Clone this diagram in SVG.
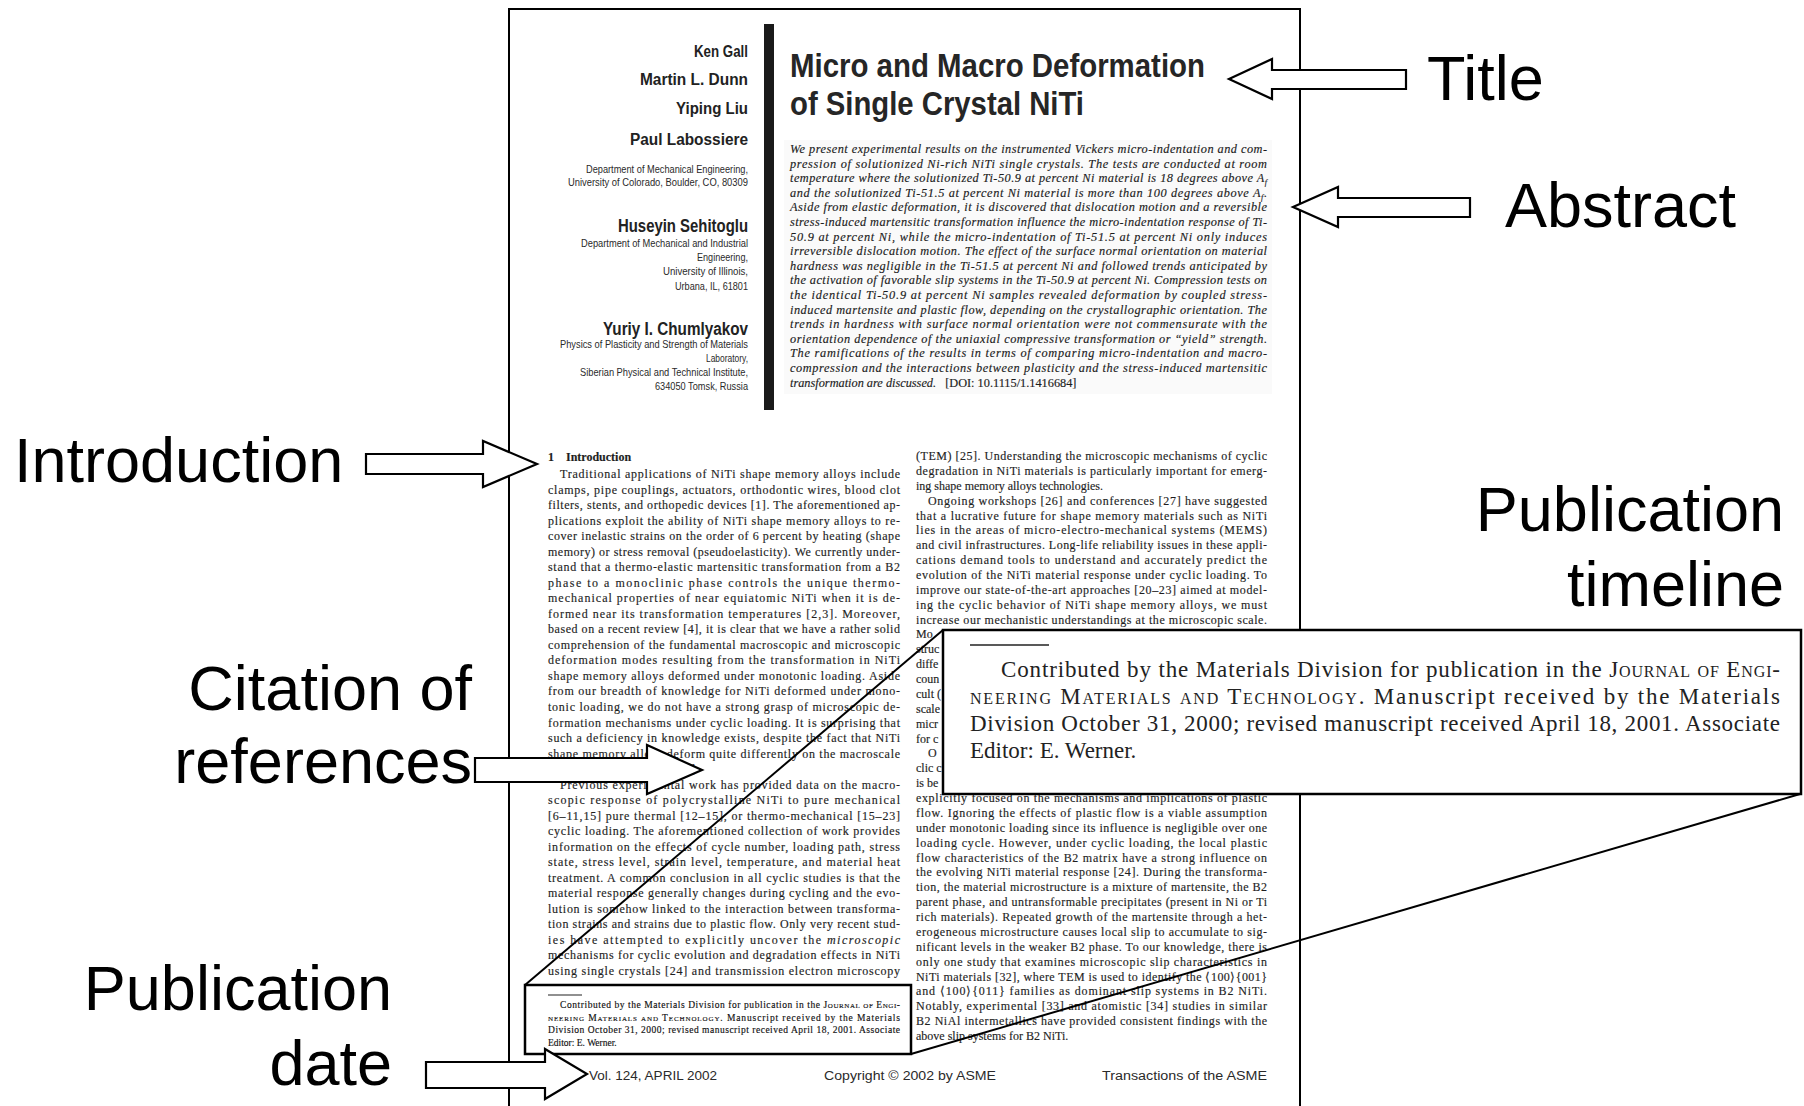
<svg xmlns="http://www.w3.org/2000/svg" width="1804" height="1106" viewBox="0 0 1804 1106">
<style>
.lbl{font-family:"Liberation Sans",Arial,sans-serif;font-size:63px;fill:#000}
.end{text-anchor:end}
.auth{font-family:"Liberation Sans",Arial,sans-serif;font-weight:bold;fill:#222;text-anchor:end}
.aff{font-family:"Liberation Sans",Arial,sans-serif;font-size:10.5px;fill:#2a2a2a;text-anchor:end}
.ttl{font-family:"Liberation Sans",Arial,sans-serif;font-weight:bold;font-size:33px;fill:#262626}
.abs{font-family:"Liberation Serif","Times New Roman",serif;font-style:italic;font-size:12.3px;fill:#1c1c1c;stroke:#1c1c1c;stroke-width:0.15}
.bd{font-family:"Liberation Serif","Times New Roman",serif;font-size:12px;fill:#1e1e1e;stroke:#1e1e1e;stroke-width:0.15}
.fn{font-family:"Liberation Serif","Times New Roman",serif;font-size:9.5px;fill:#111;stroke:#111;stroke-width:0.15}
.ins{font-family:"Liberation Serif","Times New Roman",serif;font-size:23px;fill:#222}
.sc{font-variant:small-caps}
.ft{font-family:"Liberation Sans",Arial,sans-serif;font-size:12.5px;fill:#2a2a2a}
.arrow{fill:#fff;stroke:#000;stroke-width:2.2;stroke-linejoin:miter}
.ln{stroke:#000;stroke-width:2;fill:none}
</style>

<g id="page">
<rect x="509" y="9" width="791" height="1110" fill="#fff" stroke="#000" stroke-width="2"/>
<rect x="784" y="140" width="488" height="254" fill="#fafafa"/>
<rect x="764" y="24" width="10" height="386" fill="#1a1a1a"/>

<g id="authors">
<text class="auth" x="748" y="57" font-size="16" textLength="54" lengthAdjust="spacingAndGlyphs">Ken Gall</text>
<text class="auth" x="748" y="85" font-size="16" textLength="108" lengthAdjust="spacingAndGlyphs">Martin L. Dunn</text>
<text class="auth" x="748" y="114" font-size="16" textLength="72" lengthAdjust="spacingAndGlyphs">Yiping Liu</text>
<text class="auth" x="748" y="145" font-size="16" textLength="118" lengthAdjust="spacingAndGlyphs">Paul Labossiere</text>
<text class="aff" x="748" y="173" textLength="162" lengthAdjust="spacingAndGlyphs">Department of Mechanical Engineering,</text>
<text class="aff" x="748" y="186" textLength="180" lengthAdjust="spacingAndGlyphs">University of Colorado, Boulder, CO, 80309</text>
<text class="auth" x="748" y="232" font-size="18" textLength="130" lengthAdjust="spacingAndGlyphs">Huseyin Sehitoglu</text>
<text class="aff" x="748" y="247" textLength="167" lengthAdjust="spacingAndGlyphs">Department of Mechanical and Industrial</text>
<text class="aff" x="748" y="261" textLength="51" lengthAdjust="spacingAndGlyphs">Engineering,</text>
<text class="aff" x="748" y="275" textLength="85" lengthAdjust="spacingAndGlyphs">University of Illinois,</text>
<text class="aff" x="748" y="290" textLength="73" lengthAdjust="spacingAndGlyphs">Urbana, IL, 61801</text>
<text class="auth" x="748" y="335" font-size="18" textLength="145" lengthAdjust="spacingAndGlyphs">Yuriy I. Chumlyakov</text>
<text class="aff" x="748" y="348" textLength="188" lengthAdjust="spacingAndGlyphs">Physics of Plasticity and Strength of Materials</text>
<text class="aff" x="748" y="362" textLength="42" lengthAdjust="spacingAndGlyphs">Laboratory,</text>
<text class="aff" x="748" y="376" textLength="168" lengthAdjust="spacingAndGlyphs">Siberian Physical and Technical Institute,</text>
<text class="aff" x="748" y="390" textLength="93" lengthAdjust="spacingAndGlyphs">634050 Tomsk, Russia</text>
</g>

<g id="title">
<text class="ttl" x="790" y="77" textLength="415" lengthAdjust="spacingAndGlyphs">Micro and Macro Deformation</text>
<text class="ttl" x="790" y="115" textLength="294" lengthAdjust="spacingAndGlyphs">of Single Crystal NiTi</text>
</g>

<g id="abstract">
<text class="abs" x="790" y="153" textLength="477" lengthAdjust="spacing">We present experimental results on the instrumented Vickers micro-indentation and com-</text>
<text class="abs" x="790" y="167.6" textLength="477" lengthAdjust="spacing">pression of solutionized Ni-rich NiTi single crystals. The tests are conducted at room</text>
<text class="abs" x="790" y="182.2" textLength="477" lengthAdjust="spacing">temperature where the solutionized Ti-50.9 at percent Ni material is 18 degrees above A<tspan font-size="8" dy="3">f</tspan></text>
<text class="abs" x="790" y="196.8" textLength="477" lengthAdjust="spacing">and the solutionized Ti-51.5 at percent Ni material is more than 100 degrees above A<tspan font-size="8" dy="3">f</tspan><tspan dy="-3">.</tspan></text>
<text class="abs" x="790" y="211.4" textLength="477" lengthAdjust="spacing">Aside from elastic deformation, it is discovered that dislocation motion and a reversible</text>
<text class="abs" x="790" y="226" textLength="477" lengthAdjust="spacing">stress-induced martensitic transformation influence the micro-indentation response of Ti-</text>
<text class="abs" x="790" y="240.6" textLength="477" lengthAdjust="spacing">50.9 at percent Ni, while the micro-indentation of Ti-51.5 at percent Ni only induces</text>
<text class="abs" x="790" y="255.2" textLength="477" lengthAdjust="spacing">irreversible dislocation motion. The effect of the surface normal orientation on material</text>
<text class="abs" x="790" y="269.8" textLength="477" lengthAdjust="spacing">hardness was negligible in the Ti-51.5 at percent Ni and followed trends anticipated by</text>
<text class="abs" x="790" y="284.4" textLength="477" lengthAdjust="spacing">the activation of favorable slip systems in the Ti-50.9 at percent Ni. Compression tests on</text>
<text class="abs" x="790" y="299" textLength="477" lengthAdjust="spacing">the identical Ti-50.9 at percent Ni samples revealed deformation by coupled stress-</text>
<text class="abs" x="790" y="313.6" textLength="477" lengthAdjust="spacing">induced martensite and plastic flow, depending on the crystallographic orientation. The</text>
<text class="abs" x="790" y="328.2" textLength="477" lengthAdjust="spacing">trends in hardness with surface normal orientation were not commensurate with the</text>
<text class="abs" x="790" y="342.8" textLength="477" lengthAdjust="spacing">orientation dependence of the uniaxial compressive transformation or “yield” strength.</text>
<text class="abs" x="790" y="357.4" textLength="477" lengthAdjust="spacing">The ramifications of the results in terms of comparing micro-indentation and macro-</text>
<text class="abs" x="790" y="372" textLength="477" lengthAdjust="spacing">compression and the interactions between plasticity and the stress-induced martensitic</text>
<text class="abs" x="790" y="386.6">transformation are discussed. <tspan font-style="normal" dx="6">[DOI: 10.1115/1.1416684]</tspan></text>
</g>

<g id="left-column">
<text class="bd" x="548" y="461" font-weight="bold">1<tspan dx="12">Introduction</tspan></text>
<text class="bd" x="560" y="478" textLength="340" lengthAdjust="spacing">Traditional applications of NiTi shape memory alloys include</text>
<text class="bd" x="548" y="493.5" textLength="352" lengthAdjust="spacing">clamps, pipe couplings, actuators, orthodontic wires, blood clot</text>
<text class="bd" x="548" y="509.1" textLength="352" lengthAdjust="spacing">filters, stents, and orthopedic devices [1]. The aforementioned ap-</text>
<text class="bd" x="548" y="524.6" textLength="352" lengthAdjust="spacing">plications exploit the ability of NiTi shape memory alloys to re-</text>
<text class="bd" x="548" y="540.1" textLength="352" lengthAdjust="spacing">cover inelastic strains on the order of 6 percent by heating (shape</text>
<text class="bd" x="548" y="555.7" textLength="352" lengthAdjust="spacing">memory) or stress removal (pseudoelasticity). We currently under-</text>
<text class="bd" x="548" y="571.2" textLength="352" lengthAdjust="spacing">stand that a thermo-elastic martensitic transformation from a B2</text>
<text class="bd" x="548" y="586.7" textLength="352" lengthAdjust="spacing">phase to a monoclinic phase controls the unique thermo-</text>
<text class="bd" x="548" y="602.2" textLength="352" lengthAdjust="spacing">mechanical properties of near equiatomic NiTi when it is de-</text>
<text class="bd" x="548" y="617.8" textLength="352" lengthAdjust="spacing">formed near its transformation temperatures [2,3]. Moreover,</text>
<text class="bd" x="548" y="633.3" textLength="352" lengthAdjust="spacing">based on a recent review [4], it is clear that we have a rather solid</text>
<text class="bd" x="548" y="648.8" textLength="352" lengthAdjust="spacing">comprehension of the fundamental macroscopic and microscopic</text>
<text class="bd" x="548" y="664.4" textLength="352" lengthAdjust="spacing">deformation modes resulting from the transformation in NiTi</text>
<text class="bd" x="548" y="679.9" textLength="352" lengthAdjust="spacing">shape memory alloys deformed under monotonic loading. Aside</text>
<text class="bd" x="548" y="695.4" textLength="352" lengthAdjust="spacing">from our breadth of knowledge for NiTi deformed under mono-</text>
<text class="bd" x="548" y="710.9" textLength="352" lengthAdjust="spacing">tonic loading, we do not have a strong grasp of microscopic de-</text>
<text class="bd" x="548" y="726.5" textLength="352" lengthAdjust="spacing">formation mechanisms under cyclic loading. It is surprising that</text>
<text class="bd" x="548" y="742" textLength="352" lengthAdjust="spacing">such a deficiency in knowledge exists, despite the fact that NiTi</text>
<text class="bd" x="548" y="757.5" textLength="352" lengthAdjust="spacing">shape memory alloys deform quite differently on the macroscale</text>
<text class="bd" x="548" y="773.1">under cyclic conditions [5–23].</text>
<text class="bd" x="560" y="788.6" textLength="340" lengthAdjust="spacing">Previous experimental work has provided data on the macro-</text>
<text class="bd" x="548" y="804.1" textLength="352" lengthAdjust="spacing">scopic response of polycrystalline NiTi to pure mechanical</text>
<text class="bd" x="548" y="819.7" textLength="352" lengthAdjust="spacing">[6–11,15] pure thermal [12–15], or thermo-mechanical [15–23]</text>
<text class="bd" x="548" y="835.2" textLength="352" lengthAdjust="spacing">cyclic loading. The aforementioned collection of work provides</text>
<text class="bd" x="548" y="850.7" textLength="352" lengthAdjust="spacing">information on the effects of cycle number, loading path, stress</text>
<text class="bd" x="548" y="866.2" textLength="352" lengthAdjust="spacing">state, stress level, strain level, temperature, and material heat</text>
<text class="bd" x="548" y="881.8" textLength="352" lengthAdjust="spacing">treatment. A common conclusion in all cyclic studies is that the</text>
<text class="bd" x="548" y="897.3" textLength="352" lengthAdjust="spacing">material response generally changes during cycling and the evo-</text>
<text class="bd" x="548" y="912.8" textLength="352" lengthAdjust="spacing">lution is somehow linked to the interaction between transforma-</text>
<text class="bd" x="548" y="928.4" textLength="352" lengthAdjust="spacing">tion strains and strains due to plastic flow. Only very recent stud-</text>
<text class="bd" x="548" y="943.9" textLength="352" lengthAdjust="spacing">ies have attempted to explicitly uncover the <tspan font-style="italic">microscopic</tspan></text>
<text class="bd" x="548" y="959.4" textLength="352" lengthAdjust="spacing">mechanisms for cyclic evolution and degradation effects in NiTi</text>
<text class="bd" x="548" y="975" textLength="352" lengthAdjust="spacing">using single crystals [24] and transmission electron microscopy</text>
</g>

<g id="right-column">
<text class="bd" x="916" y="460" textLength="351" lengthAdjust="spacing">(TEM) [25]. Understanding the microscopic mechanisms of cyclic</text>
<text class="bd" x="916" y="474.9" textLength="351" lengthAdjust="spacing">degradation in NiTi materials is particularly important for emerg-</text>
<text class="bd" x="916" y="489.7">ing shape memory alloys technologies.</text>
<text class="bd" x="928" y="504.6" textLength="339" lengthAdjust="spacing">Ongoing workshops [26] and conferences [27] have suggested</text>
<text class="bd" x="916" y="519.5" textLength="351" lengthAdjust="spacing">that a lucrative future for shape memory materials such as NiTi</text>
<text class="bd" x="916" y="534.4" textLength="351" lengthAdjust="spacing">lies in the areas of micro-electro-mechanical systems (MEMS)</text>
<text class="bd" x="916" y="549.2" textLength="351" lengthAdjust="spacing">and civil infrastructures. Long-life reliability issues in these appli-</text>
<text class="bd" x="916" y="564.1" textLength="351" lengthAdjust="spacing">cations demand tools to understand and accurately predict the</text>
<text class="bd" x="916" y="579" textLength="351" lengthAdjust="spacing">evolution of the NiTi material response under cyclic loading. To</text>
<text class="bd" x="916" y="593.8" textLength="351" lengthAdjust="spacing">improve our state-of-the-art approaches [20–23] aimed at model-</text>
<text class="bd" x="916" y="608.7" textLength="351" lengthAdjust="spacing">ing the cyclic behavior of NiTi shape memory alloys, we must</text>
<text class="bd" x="916" y="623.6" textLength="351" lengthAdjust="spacing">increase our mechanistic understandings at the microscopic scale.</text>
<text class="bd" x="916" y="638.4">Mo</text>
<text class="bd" x="916" y="653.3">struc</text>
<text class="bd" x="916" y="668.2">diffe</text>
<text class="bd" x="916" y="683.1">coun</text>
<text class="bd" x="916" y="697.9">cult (</text>
<text class="bd" x="916" y="712.8">scale</text>
<text class="bd" x="916" y="727.7">micr</text>
<text class="bd" x="916" y="742.5">for c</text>
<text class="bd" x="928" y="757.4">O</text>
<text class="bd" x="916" y="772.3">clic c</text>
<text class="bd" x="916" y="787.1">is be</text>
<text class="bd" x="916" y="802" textLength="351" lengthAdjust="spacing">explicitly focused on the mechanisms and implications of plastic</text>
<text class="bd" x="916" y="816.9" textLength="351" lengthAdjust="spacing">flow. Ignoring the effects of plastic flow is a viable assumption</text>
<text class="bd" x="916" y="831.8" textLength="351" lengthAdjust="spacing">under monotonic loading since its influence is negligible over one</text>
<text class="bd" x="916" y="846.6" textLength="351" lengthAdjust="spacing">loading cycle. However, under cyclic loading, the local plastic</text>
<text class="bd" x="916" y="861.5" textLength="351" lengthAdjust="spacing">flow characteristics of the B2 matrix have a strong influence on</text>
<text class="bd" x="916" y="876.4" textLength="351" lengthAdjust="spacing">the evolving NiTi material response [24]. During the transforma-</text>
<text class="bd" x="916" y="891.2" textLength="351" lengthAdjust="spacing">tion, the material microstructure is a mixture of martensite, the B2</text>
<text class="bd" x="916" y="906.1" textLength="351" lengthAdjust="spacing">parent phase, and untransformable precipitates (present in Ni or Ti</text>
<text class="bd" x="916" y="921" textLength="351" lengthAdjust="spacing">rich materials). Repeated growth of the martensite through a het-</text>
<text class="bd" x="916" y="935.8" textLength="351" lengthAdjust="spacing">erogeneous microstructure causes local slip to accumulate to sig-</text>
<text class="bd" x="916" y="950.7" textLength="351" lengthAdjust="spacing">nificant levels in the weaker B2 phase. To our knowledge, there is</text>
<text class="bd" x="916" y="965.6" textLength="351" lengthAdjust="spacing">only one study that examines microscopic slip characteristics in</text>
<text class="bd" x="916" y="980.5" textLength="351" lengthAdjust="spacing">NiTi materials [32], where TEM is used to identify the ⟨100⟩{001}</text>
<text class="bd" x="916" y="995.3" textLength="351" lengthAdjust="spacing">and ⟨100⟩{011} families as dominant slip systems in B2 NiTi.</text>
<text class="bd" x="916" y="1010.2" textLength="351" lengthAdjust="spacing">Notably, experimental [33] and atomistic [34] studies in similar</text>
<text class="bd" x="916" y="1025.1" textLength="351" lengthAdjust="spacing">B2 NiAl intermetallics have provided consistent findings with the</text>
<text class="bd" x="916" y="1039.9">above slip systems for B2 NiTi.</text>
</g>

<g id="footnote">
<line x1="548" y1="995" x2="582" y2="995" stroke="#222" stroke-width="1.2"/>
<text class="fn" x="560" y="1008" textLength="340" lengthAdjust="spacing">Contributed by the Materials Division for publication in the <tspan class="sc">Journal of Engi-</tspan></text>
<text class="fn" x="548" y="1020.5" textLength="352" lengthAdjust="spacing"><tspan class="sc">neering Materials and Technology</tspan>. Manuscript received by the Materials</text>
<text class="fn" x="548" y="1033" textLength="352" lengthAdjust="spacing">Division October 31, 2000; revised manuscript received April 18, 2001. Associate</text>
<text class="fn" x="548" y="1045.5">Editor: E. Werner.</text>
</g>

<g id="page-footer">
<text class="ft" x="589" y="1080" textLength="128" lengthAdjust="spacingAndGlyphs">Vol. 124, APRIL 2002</text>
<text class="ft" x="824" y="1080" textLength="172" lengthAdjust="spacingAndGlyphs">Copyright © 2002 by ASME</text>
<text class="ft" x="1102" y="1080" textLength="165" lengthAdjust="spacingAndGlyphs">Transactions of the ASME</text>
</g>
</g>

<g id="footnote-box">
<rect x="525" y="985" width="386" height="69" fill="none" stroke="#000" stroke-width="2.5"/>
</g>

<g id="connectors">
<line class="ln" x1="525" y1="985" x2="943" y2="630"/>
<line class="ln" x1="911" y1="1054" x2="1800" y2="794"/>
<polygon class="arrow" points="1229,79 1272,59 1272,70 1406,70 1406,89 1272,89 1272,99"/>
<polygon class="arrow" points="1293,207 1338,187 1338,198 1470,198 1470,217 1338,217 1338,227"/>
<polygon class="arrow" points="366,454 483,454 483,441 537,464 483,487 483,474 366,474"/>
<polygon class="arrow" points="475,758 647,758 647,745 702,770 647,794 647,782 475,782"/>
<polygon class="arrow" points="426,1062 545,1062 545,1049 587,1074 545,1099 545,1088 426,1088"/>
</g>

<g id="inset">
<rect x="943" y="630" width="858" height="164" fill="#fff" stroke="#000" stroke-width="2.5"/>
<line x1="970" y1="645" x2="1049" y2="645" stroke="#222" stroke-width="1.5"/>
<text class="ins" x="1001" y="677" textLength="779" lengthAdjust="spacing">Contributed by the Materials Division for publication in the <tspan class="sc">Journal of Engi-</tspan></text>
<text class="ins" x="970" y="704" textLength="810" lengthAdjust="spacing"><tspan class="sc">neering Materials and Technology</tspan>. Manuscript received by the Materials</text>
<text class="ins" x="970" y="731" textLength="810" lengthAdjust="spacing">Division October 31, 2000; revised manuscript received April 18, 2001. Associate</text>
<text class="ins" x="970" y="758">Editor: E. Werner.</text>
</g>

<g id="label-title"><text class="lbl" x="1427" y="100">Title</text></g>
<g id="label-abstract"><text class="lbl" x="1505" y="227">Abstract</text></g>
<g id="label-timeline"><text class="lbl end" x="1784" y="531">Publication</text><text class="lbl end" x="1784" y="606">timeline</text></g>
<g id="label-introduction"><text class="lbl" x="14" y="482">Introduction</text></g>
<g id="label-citation"><text class="lbl end" x="472" y="710">Citation of</text><text class="lbl end" x="472" y="783">references</text></g>
<g id="label-date"><text class="lbl end" x="392" y="1010">Publication</text><text class="lbl end" x="392" y="1085">date</text></g>
</svg>
